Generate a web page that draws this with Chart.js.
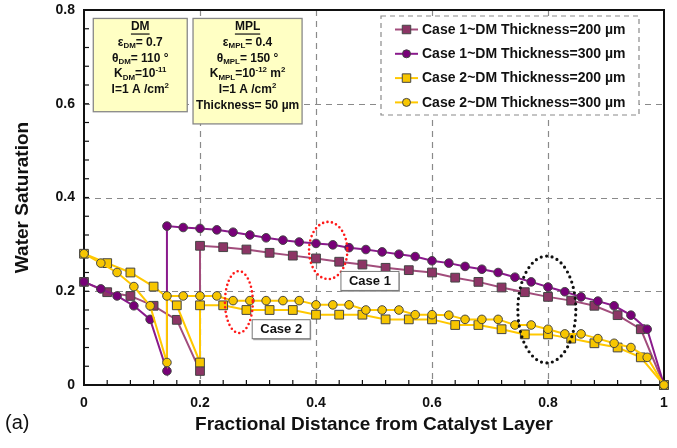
<!DOCTYPE html>
<html>
<head>
<meta charset="utf-8">
<script src="https://cdn.jsdelivr.net/npm/chart.js@4.4.1/dist/chart.umd.min.js"></script>
<style>
  body { margin: 0; background: #fff; }
  #wrap { width: 677px; height: 448px; }
</style>
</head>
<body>
<div id="wrap"><canvas id="satChart" width="677" height="448"></canvas></div>
<script>
// ===================
// Data
// ===================

// fractional positions, DM 200 um (25 nodes) and DM 300 um (35 nodes); MPL/DM interface repeated
const xDM200 = [0, 0.04, 0.08, 0.12, 0.16, 0.2, 0.2, 0.24, 0.28, 0.32, 0.36, 0.4, 0.44, 0.48, 0.52, 0.56,
  0.6, 0.64, 0.68, 0.72, 0.76, 0.8, 0.84, 0.88, 0.92, 0.96, 1];
const xDM300 = [0, 0.029, 0.057, 0.086, 0.114, 0.143, 0.143, 0.171, 0.2, 0.229, 0.257, 0.286, 0.314, 0.343,
  0.371, 0.4, 0.429, 0.457, 0.486, 0.514, 0.543, 0.571, 0.6, 0.629, 0.657, 0.686, 0.714, 0.743, 0.771,
  0.8, 0.829, 0.857, 0.886, 0.914, 0.943, 0.971, 1];

const case1DM200 = [0.22, 0.198, 0.19, 0.169, 0.139, 0.03, 0.297, 0.294, 0.289, 0.282, 0.276, 0.27, 0.263,
  0.257, 0.25, 0.245, 0.24, 0.229, 0.22, 0.208, 0.198, 0.188, 0.18, 0.169, 0.149, 0.119, 0];
const case1DM300 = [0.22, 0.205, 0.19, 0.169, 0.14, 0.03, 0.339, 0.336, 0.334, 0.331, 0.326, 0.32, 0.314,
  0.309, 0.305, 0.302, 0.299, 0.293, 0.289, 0.284, 0.279, 0.274, 0.265, 0.26, 0.253, 0.247, 0.24, 0.23,
  0.22, 0.209, 0.199, 0.188, 0.179, 0.169, 0.149, 0.119, 0];
const case2DM200 = [0.28, 0.26, 0.24, 0.21, 0.17, 0.048, 0.17, 0.17, 0.16, 0.16, 0.16, 0.15, 0.15, 0.15,
  0.14, 0.14, 0.14, 0.128, 0.128, 0.119, 0.108, 0.108, 0.099, 0.089, 0.08, 0.059, 0];
const case2DM300 = [0.28, 0.26, 0.24, 0.21, 0.169, 0.048, 0.19, 0.19, 0.19, 0.19, 0.18, 0.18, 0.18, 0.18,
  0.18, 0.171, 0.171, 0.171, 0.16, 0.16, 0.16, 0.15, 0.15, 0.149, 0.14, 0.14, 0.14, 0.128, 0.128, 0.119,
  0.109, 0.109, 0.099, 0.089, 0.08, 0.059, 0];

const seriesLabels = ['Case 1~DM Thickness=200 \u00b5m', 'Case 1~DM Thickness=300 \u00b5m',
  'Case 2~DM Thickness=200 \u00b5m', 'Case 2~DM Thickness=300 \u00b5m'];

const xTickLabels = ['0', '0.2', '0.4', '0.6', '0.8', '1'];
const yTickLabels = ['0', '0.2', '0.4', '0.6', '0.8'];

const FONT = "'Liberation Sans', Arial, sans-serif";

function pairs(xs, ys) {
  return xs.map((x, i) => ({ x: x, y: ys[i] }));
}

function series(label, xs, ys, line, fill, shape, radius, order) {
  return {
    label: label,
    data: pairs(xs, ys),
    borderColor: line,
    backgroundColor: fill,
    pointBackgroundColor: fill,
    pointBorderColor: '#444',
    pointBorderWidth: 1,
    pointStyle: shape,
    pointRadius: radius,
    borderWidth: 2,
    tension: 0,
    clip: false,
    order: order
  };
}

// ===================
// Plot decorations
// ===================

function rich(ctx, parts, cx, cy, size) {
  const fontOf = m => 'bold ' + (m ? size * 0.66 : size) + 'px ' + FONT;
  let total = 0;
  const widths = parts.map(p => {
    ctx.font = fontOf(p[1]);
    const w = ctx.measureText(p[0]).width;
    total += w;
    return w;
  });
  let x = cx - total / 2;
  ctx.textAlign = 'left';
  ctx.textBaseline = 'middle';
  parts.forEach((p, i) => {
    ctx.font = fontOf(p[1]);
    const dy = p[1] === 1 ? size * 0.3 : (p[1] === 2 ? -size * 0.35 : 0);
    ctx.fillText(p[0], x, cy + dy);
    x += widths[i];
  });
  return total;
}

function marker(ctx, shape, x, y, r, fill) {
  ctx.fillStyle = fill;
  ctx.strokeStyle = '#444';
  ctx.lineWidth = 1;
  ctx.beginPath();
  if (shape === 'rect') {
    const s = r * Math.SQRT1_2;
    ctx.rect(x - s, y - s, 2 * s, 2 * s);
  } else {
    ctx.arc(x, y, r, 0, Math.PI * 2);
  }
  ctx.fill();
  ctx.stroke();
}

const framePlugin = {
  id: 'frame',
  beforeDatasetsDraw(chart) {
    const { ctx, chartArea: a, scales: { x, y } } = chart;
    ctx.save();
    // dashed grid
    ctx.strokeStyle = '#8a8a8a';
    ctx.lineWidth = 1.2;
    ctx.setLineDash([6, 5]);
    [0.2, 0.4, 0.6, 0.8].forEach(v => {
      const px = Math.round(x.getPixelForValue(v)) + 0.5;
      ctx.beginPath(); ctx.moveTo(px, a.top); ctx.lineTo(px, a.bottom); ctx.stroke();
    });
    [0.2, 0.4, 0.6].forEach(v => {
      const py = Math.round(y.getPixelForValue(v)) + 0.5;
      ctx.beginPath(); ctx.moveTo(a.left, py); ctx.lineTo(a.right, py); ctx.stroke();
    });
    ctx.setLineDash([]);
    // inner ticks every 0.04
    ctx.strokeStyle = '#111';
    ctx.lineWidth = 1.2;
    for (let i = 1; i < 25; i++) {
      const px = x.getPixelForValue(i * 0.04);
      ctx.beginPath(); ctx.moveTo(px, a.bottom); ctx.lineTo(px, a.bottom - 5); ctx.stroke();
    }
    for (let i = 1; i < 20; i++) {
      const py = y.getPixelForValue(i * 0.04);
      ctx.beginPath(); ctx.moveTo(a.left, py); ctx.lineTo(a.left + 5, py); ctx.stroke();
    }
    // frame
    ctx.lineWidth = 2;
    ctx.strokeRect(a.left, a.top, a.right - a.left, a.bottom - a.top);
    ctx.restore();
  }
};

const notesPlugin = {
  id: 'notes',
  afterDraw(chart) {
    const { ctx, chartArea: a, scales: { x, y } } = chart;
    ctx.save();

    // dotted ellipses (data units)
    const ellipse = (cx, cy, rx, ry, color, w, gap) => {
      ctx.strokeStyle = color;
      ctx.lineWidth = w;
      ctx.lineCap = 'round';
      ctx.setLineDash([0, gap]);
      ctx.beginPath();
      ctx.ellipse(x.getPixelForValue(cx), y.getPixelForValue(cy),
        Math.abs(x.getPixelForValue(cx + rx) - x.getPixelForValue(cx)),
        Math.abs(y.getPixelForValue(cy + ry) - y.getPixelForValue(cy)), 0, 0, Math.PI * 2);
      ctx.stroke();
    };
    ellipse(0.267, 0.177, 0.024, 0.066, '#ff1a1a', 2.6, 4.5);
    ellipse(0.421, 0.287, 0.033, 0.061, '#ff1a1a', 2.6, 4.5);
    ellipse(0.798, 0.161, 0.05, 0.114, '#111', 3.2, 5.5);
    ctx.setLineDash([]);
    ctx.lineCap = 'butt';

    // case labels
    const tag = (text, cx, cy) => {
      const px = x.getPixelForValue(cx), py = y.getPixelForValue(cy);
      ctx.fillStyle = '#aaa';
      ctx.fillRect(px - 28, py - 8, 58, 19);
      ctx.fillStyle = '#fff';
      ctx.strokeStyle = '#777';
      ctx.lineWidth = 1;
      ctx.fillRect(px - 29, py - 9.5, 58, 19);
      ctx.strokeRect(px - 29, py - 9.5, 58, 19);
      ctx.fillStyle = '#111';
      ctx.font = 'bold 13px ' + FONT;
      ctx.textAlign = 'center';
      ctx.textBaseline = 'middle';
      ctx.fillText(text, px, py + 0.5);
    };
    tag('Case 1', 0.493, 0.222);
    tag('Case 2', 0.34, 0.119);

    // property boxes
    const box = (x0, x1, y0, y1, title, lines) => {
      const l = x.getPixelForValue(x0), r = x.getPixelForValue(x1);
      const t = y.getPixelForValue(y0), b = y.getPixelForValue(y1);
      ctx.fillStyle = '#ffffc4';
      ctx.strokeStyle = '#888';
      ctx.lineWidth = 1.3;
      ctx.fillRect(l, t, r - l, b - t);
      ctx.strokeRect(l, t, r - l, b - t);
      ctx.fillStyle = '#111';
      const cx = (l + r) / 2;
      const w = rich(ctx, [[title, 0]], cx, t + 8.5, 12);
      ctx.fillRect(cx - w / 2, t + 15, w, 1.2);
      lines.forEach((parts, i) => rich(ctx, parts, cx, t + 24 + i * 15.8, 12));
    };
    box(0.016, 0.178, 0.782, 0.583, 'DM', [
      [['\u03b5', 0], ['DM', 1], ['= 0.7', 0]],
      [['\u03b8', 0], ['DM', 1], ['= 110 \u00b0', 0]],
      [['K', 0], ['DM', 1], ['=10', 0], ['-11', 2]],
      [['I=1 A /cm', 0], ['2', 2]]
    ]);
    box(0.188, 0.376, 0.782, 0.557, 'MPL', [
      [['\u03b5', 0], ['MPL', 1], ['= 0.4', 0]],
      [['\u03b8', 0], ['MPL', 1], ['= 150 \u00b0', 0]],
      [['K', 0], ['MPL', 1], ['=10', 0], ['-12', 2], [' m', 0], ['2', 2]],
      [['I=1 A /cm', 0], ['2', 2]],
      [['Thickness= 50 \u00b5m', 0]]
    ]);

    // legend, dashed box inside the plot
    const lx = a.left + 297, ly = a.top + 6, lw = 258, lh = 99;
    ctx.fillStyle = '#fff';
    ctx.fillRect(lx, ly, lw, lh);
    ctx.strokeStyle = '#8a8a8a';
    ctx.lineWidth = 1.2;
    ctx.setLineDash([5, 4]);
    ctx.strokeRect(lx, ly, lw, lh);
    ctx.setLineDash([]);
    chart.data.datasets.forEach((ds, i) => {
      const yy = ly + 13.5 + i * 24.3;
      ctx.strokeStyle = ds.borderColor;
      ctx.lineWidth = 2;
      ctx.beginPath(); ctx.moveTo(lx + 14, yy); ctx.lineTo(lx + 37, yy); ctx.stroke();
      marker(ctx, ds.pointStyle, lx + 25.5, yy, ds.pointStyle === 'rect' ? 6 : 4, ds.pointBackgroundColor);
      ctx.fillStyle = '#111';
      ctx.font = 'bold 14px ' + FONT;
      ctx.textAlign = 'left';
      ctx.textBaseline = 'middle';
      ctx.fillText(ds.label, lx + 41, yy + 0.5);
    });

    // panel letter
    ctx.fillStyle = '#111';
    ctx.font = '20px ' + FONT;
    ctx.textAlign = 'left';
    ctx.textBaseline = 'alphabetic';
    ctx.fillText('(a)', 5, 429);
    ctx.restore();
  }
};

// ===================
// Water Saturation Chart
// ===================

const ctx = document.getElementById('satChart').getContext('2d');
const chart = new Chart(ctx, {
  type: 'line',
  data: {
    datasets: [
      series(seriesLabels[0], xDM200, case1DM200, '#a24d7c', '#8c3565', 'rect', 6.2, 3),
      series(seriesLabels[1], xDM300, case1DM300, '#8a1a8c', '#780078', 'circle', 4.3, 2),
      series(seriesLabels[2], xDM200, case2DM200, '#ffc800', '#f7c600', 'rect', 6.2, 1),
      series(seriesLabels[3], xDM300, case2DM300, '#ffc800', '#f7c600', 'circle', 4.3, 0)
    ]
  },
  options: {
    responsive: false,
    animation: false,
    layout: { padding: { left: 0, right: 13, top: 10, bottom: 0 } },
    plugins: {
      legend: { display: false },
      tooltip: { enabled: false }
    },
    scales: {
      x: {
        type: 'linear',
        min: 0,
        max: 1,
        grid: { display: false, drawTicks: false },
        border: { display: false },
        afterFit: s => { s.height = 63; s.paddingLeft = 0; s.paddingRight = 0; },
        ticks: {
          stepSize: 0.2,
          padding: 10,
          color: '#111',
          font: { family: FONT, size: 14, weight: 'bold' },
          callback: (v, i) => xTickLabels[i]
        },
        title: {
          display: true,
          text: 'Fractional Distance from Catalyst Layer',
          color: '#111',
          font: { family: FONT, size: 19, weight: 'bold' },
          padding: { top: 0, bottom: 12 }
        }
      },
      y: {
        min: 0,
        max: 0.8,
        grid: { display: false, drawTicks: false },
        border: { display: false },
        afterFit: s => { s.width = 84; s.paddingTop = 0; s.paddingBottom = 0; },
        ticks: {
          stepSize: 0.2,
          padding: 9,
          color: '#111',
          font: { family: FONT, size: 14, weight: 'bold' },
          callback: (v, i) => yTickLabels[i]
        },
        title: {
          display: true,
          text: 'Water Saturation',
          color: '#111',
          font: { family: FONT, size: 19, weight: 'bold' },
          padding: { top: 11, bottom: 0 }
        }
      }
    }
  },
  plugins: [framePlugin, notesPlugin]
});
</script>
</body>
</html>
